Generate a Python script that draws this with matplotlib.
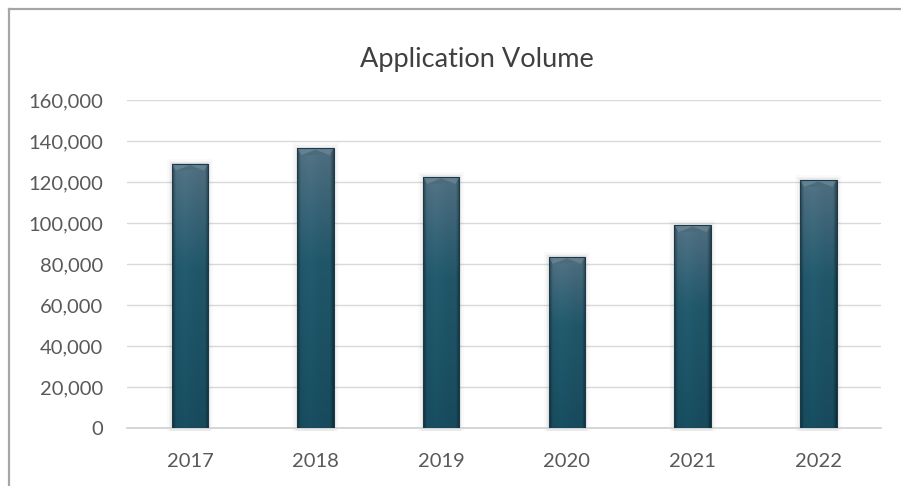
import matplotlib
matplotlib.use("Agg")
import matplotlib.pyplot as plt
import numpy as np
from matplotlib.lines import Line2D
from matplotlib.patches import Rectangle, Polygon
from matplotlib.colors import to_rgb
from matplotlib.ticker import FuncFormatter

years = ["2017", "2018", "2019", "2020", "2021", "2022"]
volumes = [129000, 136500, 122500, 83500, 99000, 121000]
title = "Application Volume"
yticks = [0, 20000, 40000, 60000, 80000, 100000, 120000, 140000, 160000]

plt.rcParams['font.family'] = ['Lato', 'DejaVu Sans']

fig = plt.figure(figsize=(9.01, 4.86), dpi=100)
ax = fig.add_axes([0.141, 0.1193, 0.837, 0.6749])

x = np.arange(len(years))
bw = 0.29
bars = ax.bar(x, volumes, width=bw, color='none', edgecolor='none', zorder=3)

ax.set_xlim(-0.5, len(years) - 0.5)
ax.set_ylim(0, 160000)
ax.set_yticks(yticks)
ax.yaxis.set_major_formatter(FuncFormatter(lambda v, p: f"{int(v):,}"))
ax.set_xticks(x)
ax.set_xticklabels(years)

ax.grid(axis='y', color='#d9d9d9', linewidth=1.0, zorder=0)
ax.set_axisbelow(True)
for s in ['top', 'right', 'left']:
    ax.spines[s].set_visible(False)
ax.spines['bottom'].set_color('#d0d0d0')
ax.spines['bottom'].set_linewidth(1.2)
ax.tick_params(axis='both', length=0, labelsize=14.5, colors='#595959')
ax.tick_params(axis='x', pad=18)
ax.tick_params(axis='y', pad=17)

# gradient image for bars
ny, nx = 200, 60
t = np.linspace(0, 1, ny)[:, None]  # 0 bottom -> 1 top
bottom_c = np.array(to_rgb('#174a5c'))
mid_c = np.array(to_rgb('#215669'))
top_c = np.array(to_rgb('#4f6e7f'))
w1 = np.clip(t / 0.6, 0, 1)
w2 = np.clip((t - 0.6) / 0.4, 0, 1)
col = np.where(t[..., None] <= 0.6,
               bottom_c * (1 - w1[..., None]) + mid_c * w1[..., None],
               mid_c * (1 - w2[..., None]) + top_c * w2[..., None])
col = np.repeat(col, nx, axis=1)
u = np.linspace(0, 1, nx)[None, :]
edge = np.minimum(u, 1 - u)
fac = 0.62 + 0.38 * np.clip(edge / 0.1, 0, 1)
fac = fac * (1.0 + 0.06 * np.clip(1 - np.abs(u - 0.35) / 0.35, 0, 1))
img = np.clip(col * fac[..., None], 0, 1)

px_y = 160000 / 328.0  # data units per pixel (approx, for decoration only)
px_x = 1.0 / 125.7
for b in bars:
    x0, w, h = b.get_x(), b.get_width(), b.get_height()
    # soft shadow
    for k, a in [(5, 0.04), (3, 0.06), (1.5, 0.08)]:
        ax.add_patch(Rectangle((x0 - k * px_x, -3 * px_y), w + 2 * k * px_x,
                               h + (3 + k) * px_y, facecolor='#8a8a8a',
                               edgecolor='none', alpha=a, zorder=2,
                               clip_on=False))
    im = ax.imshow(img, extent=[x0, x0 + w, 0, h], origin='lower',
                   aspect='auto', zorder=3, interpolation='bilinear')
    im.set_clip_path(b)
    # top bevel
    d = 4 * px_x
    hh = 7 * px_y
    ax.add_patch(Polygon([(x0, h), (x0 + w, h), (x0 + w - d, h - hh), (x0 + d, h - hh)],
                         closed=True, facecolor='#7590a0', edgecolor='none',
                         alpha=0.55, zorder=4))
    ax.add_patch(Polygon([(x0 + d, h - hh), (x0 + w - d, h - hh), (x0 + w / 2, h - 1.5 * px_y)],
                         closed=True, facecolor='#3d5d6e', edgecolor='none',
                         alpha=0.6, zorder=4))
    ax.add_patch(Rectangle((x0, 0), w, h, facecolor='none', edgecolor='#1b3b4a',
                           linewidth=0.8, zorder=5))

ax.set_aspect('auto')
ax.set_xlim(-0.5, len(years) - 0.5)
ax.set_ylim(0, 160000)

fig.text(0.529, 0.877, title, ha='center', va='center', fontsize=19.5, color='#404040')

# outer border (left and top)
fig.add_artist(Line2D([8.5 / 901, 8.5 / 901], [0, 1 - 9 / 486], color='#a6a6a6', linewidth=1.6,
                      transform=fig.transFigure))
fig.add_artist(Line2D([8.5 / 901, 1], [1 - 9 / 486, 1 - 9 / 486], color='#a6a6a6', linewidth=1.6,
                      transform=fig.transFigure))

fig.savefig("out.png", dpi=100)
